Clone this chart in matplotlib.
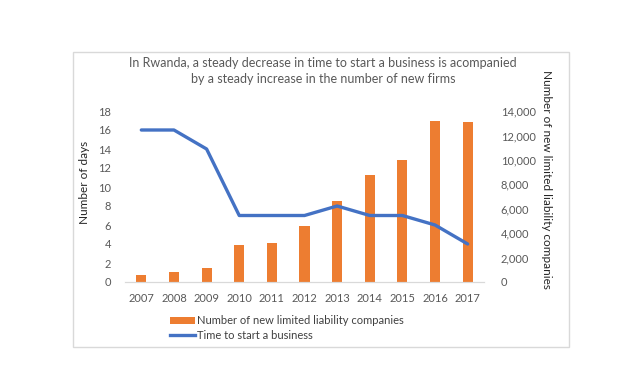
import numpy as np
import matplotlib
matplotlib.use('Agg')
import matplotlib.pyplot as plt
from matplotlib.patches import Rectangle, Patch
from matplotlib.lines import Line2D

plt.rcParams['font.family'] = ['Lato', 'DejaVu Sans']

# Data
years = ['2007', '2008', '2009', '2010', '2011', '2012', '2013', '2014', '2015', '2016', '2017']
new_companies = [600, 840, 1170, 3040, 3230, 4600, 6630, 8760, 9980, 13160, 13080]
days_to_start = [16, 16, 14, 7, 7, 7, 8, 7, 7, 6, 4]

orange = '#ED7D31'
blue = '#4472C4'
text_gray = '#595959'

W, H = 628, 367
fig = plt.figure(figsize=(W / 100, H / 100), dpi=100)

# light gray chart border
fig.patches.append(Rectangle((73 / W, 1 - 347 / H), (569 - 73) / W, (347 - 52) / H,
                             transform=fig.transFigure, fill=False,
                             edgecolor='#D9D9D9', linewidth=1))

ax = fig.add_axes([125 / W, 1 - 282 / H, 359 / W, 171 / H])
ax2 = ax.twinx()

x = np.arange(len(years))
ax2.bar(x, new_companies, width=0.31, color=orange, zorder=2)
ax.plot(x, days_to_start, color=blue, linewidth=2.4, solid_capstyle='round', zorder=3)

ax.set_zorder(ax2.get_zorder() + 1)
ax.patch.set_visible(False)

ax.set_xlim(-0.5, len(years) - 0.5)
ax.set_ylim(0, 18)
ax.set_yticks(range(0, 19, 2))
ax2.set_ylim(0, 14000)
ax2.set_yticks(range(0, 14001, 2000))
ax2.set_yticklabels([f'{v:,}' for v in range(0, 14001, 2000)])
ax.set_xticks(x)
ax.set_xticklabels(years)

for a in (ax, ax2):
    for s in ('top', 'left', 'right'):
        a.spines[s].set_visible(False)
    a.spines['bottom'].set_color('#D9D9D9')
    a.tick_params(length=0, labelsize=8, colors=text_gray)
ax.tick_params(axis='y', pad=10)
ax2.tick_params(axis='y', pad=12)
ax.tick_params(axis='x', pad=8)

ax.set_ylabel('Number of days', fontsize=8.5, color='#262626')
ax.yaxis.set_label_coords(-0.097, 0.58)
ax2.set_ylabel('Number of new limited liability companies', fontsize=8.5,
               color='#262626', rotation=270)
ax2.yaxis.set_label_coords(1.19, 0.6)

fig.text(323 / W, 1 - 71 / H,
         'In Rwanda, a steady decrease in time to start a business is acompanied\n'
         'by a steady increase in the number of new firms',
         ha='center', va='center', fontsize=9, color=text_gray, linespacing=1.35)

handles = [Patch(facecolor=orange, edgecolor='none'),
           Line2D([0], [0], color=blue, linewidth=2.4)]
labels = ['Number of new limited liability companies', 'Time to start a business']
fig.legend(handles, labels, loc='upper left', bbox_to_anchor=(166 / W, 1 - 311 / H),
           frameon=False, fontsize=8, labelcolor='#404040', handlelength=2.2,
           handleheight=0.5, handletextpad=0.2, labelspacing=0.3, borderaxespad=0)

fig.savefig('out.png', dpi=100)
